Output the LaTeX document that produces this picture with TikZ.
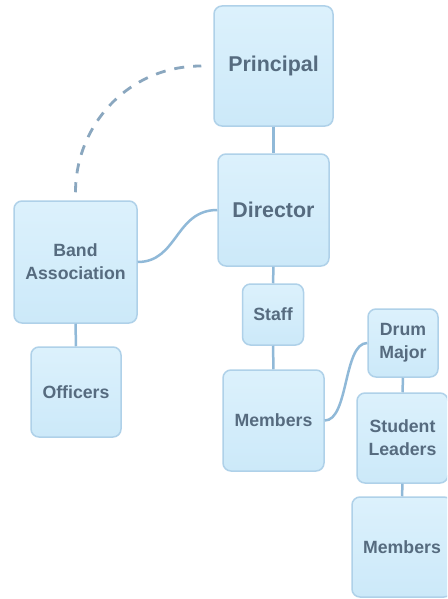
\documentclass[tikz,border=0pt]{standalone}
\usepackage{fontspec}
\setmainfont{Liberation Sans}
\definecolor{boxtop}{HTML}{DCF1FC}
\definecolor{boxbot}{HTML}{CCE9F9}
\definecolor{boxline}{HTML}{AFD1E9}
\definecolor{conn}{HTML}{90B9D8}
\definecolor{dashc}{HTML}{8AA7BF}
\definecolor{txt}{HTML}{566B7F}
\tikzset{
  orgbox/.style={draw=boxline, line width=1.5pt, rounded corners=8pt,
    top color=boxtop, bottom color=boxbot, inner sep=0pt, align=center,
    text=txt, font=\bfseries\fontsize{17.7}{22.7}\selectfont},
  bigtext/.style={font=\bfseries\fontsize{21.4}{25}\selectfont},
  link/.style={draw=conn, line width=2.5pt},
  dashlink/.style={draw=dashc, line width=2.8pt, dash pattern=on 10pt off 9pt}
}
\begin{document}
\begin{tikzpicture}[x=1pt,y=-1pt]
\clip (0,0) rectangle (447,599);
\fill[white] (0,0) rectangle (447,599);
\node[orgbox,bigtext,minimum width=119pt,minimum height=120pt] (prin) at (273.5,66) {Principal};
\node[orgbox,bigtext,minimum width=111pt,minimum height=112pt] (dir) at (273.5,210) {Director};
\node[orgbox,minimum width=123pt,minimum height=122pt] (band) at (75.5,262) {Band\\Association};
\node[orgbox,minimum width=90pt,minimum height=90pt] (off) at (76,392) {Officers};
\node[orgbox,minimum width=61pt,minimum height=61pt] (staff) at (273,314.5) {Staff};
\node[orgbox,minimum width=101pt,minimum height=101pt] (mem1) at (273.5,420.5) {Members};
\node[orgbox,minimum width=70pt,minimum height=68pt] (drum) at (403,343) {Drum\\Major};
\node[orgbox,minimum width=91pt,minimum height=90pt] (stud) at (402.5,438) {Student\\Leaders};
\node[orgbox,minimum width=100pt,minimum height=100pt] (mem2) at (402,547) {Members};
% links
\draw[link] (prin.south) -- (dir.north);
\draw[link] (dir.south) -- (staff.north);
\draw[link] (staff.south) -- (mem1.north);
\draw[link] (band.south) -- (off.north);
\draw[link] (drum.south) -- (stud.north);
\draw[link] (stud.south) -- (mem2.north);
\draw[link] (dir.west) .. controls ([xshift=-42pt]dir.west) and ([xshift=40pt]band.east) .. (band.east);
\draw[link] (mem1.east) .. controls ([xshift=24pt]mem1.east) and ([xshift=-24pt]drum.west) .. (drum.west);
\draw[dashlink] ([yshift=8pt]band.north) .. controls ([yshift=75pt]band.north) and ([xshift=-85pt]prin.west) .. ([xshift=-12pt]prin.west);
\end{tikzpicture}
\end{document}
